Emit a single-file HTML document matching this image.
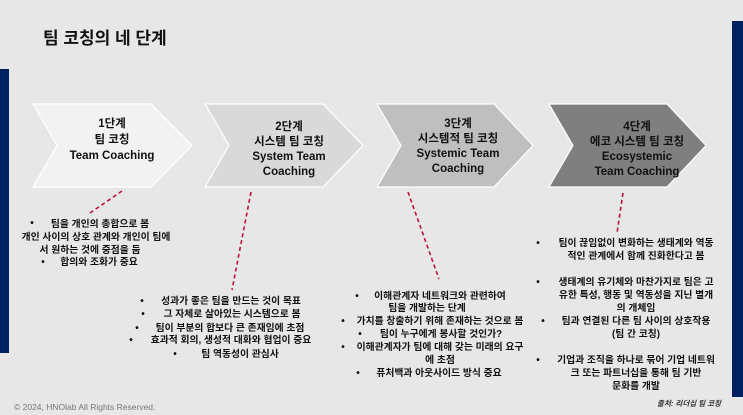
<!DOCTYPE html>
<html><head><meta charset="utf-8"><style>
html,body{margin:0;padding:0;background:#e7e7e7;}
svg{display:block;}
.k{font-family:"Liberation Sans","Noto Sans CJK KR",sans-serif;}
</style></head><body>
<svg width="743" height="415" viewBox="0 0 743 415" xmlns="http://www.w3.org/2000/svg" class="k">
<rect width="743" height="415" fill="#e7e7e7"/>
<rect x="0" y="69" width="9" height="284" fill="#002060"/>
<rect x="732" y="21" width="11" height="376" fill="#002060"/>
<text x="43" y="44" font-size="17" font-weight="bold" fill="#111">팀 코칭의 네 단계</text>
<g stroke="#fff" stroke-width="1.2">
<polygon points="33,104 151,104 192,145.5 151,187 33,187 57,145.5" fill="#f2f2f2"/>
<polygon points="205,104 323,104 363,145.5 323,187 205,187 229,145.5" fill="#d9d9d9"/>
<polygon points="377,104 494,104 533,145.5 494,187 377,187 401,145.5" fill="#bfbfbf"/>
<polygon points="549,104 667,104 706,145.5 667,187 549,187 573,145.5" fill="#7f7f7f"/>
</g>
<g font-size="11.5" font-weight="bold" fill="#111" text-anchor="middle">
<text x="112" y="127">1단계</text><text x="112" y="143">팀 코칭</text><text x="112" y="159">Team Coaching</text>
<text x="289" y="130">2단계</text><text x="289" y="145">시스템 팀 코칭</text><text x="289" y="160">System Team</text><text x="289" y="175">Coaching</text>
<text x="458" y="127">3단계</text><text x="458" y="142">시스템적 팀 코칭</text><text x="458" y="157">Systemic Team</text><text x="458" y="172">Coaching</text>
<text x="637" y="130">4단계</text><text x="637" y="145">에코 시스템 팀 코칭</text><text x="637" y="160">Ecosystemic</text><text x="637" y="175">Team Coaching</text>
</g>
<g stroke="#c0143c" stroke-width="1.6" stroke-dasharray="4,3" fill="none">
<line x1="122" y1="191" x2="90" y2="213"/>
<line x1="251" y1="192" x2="232" y2="290"/>
<line x1="408" y1="192" x2="439" y2="279"/>
<line x1="623" y1="193" x2="617" y2="233"/>
</g>
<g font-size="9.8" font-weight="bold" fill="#111" text-anchor="middle">
<text x="100" y="227">팀을 개인의 총합으로 봄</text>
<text x="96" y="240">개인 사이의 상호 관계와 개인이 팀에</text>
<text x="90" y="253">서 원하는 것에 중점을 둠</text>
<text x="99" y="265">합의와 조화가 중요</text>
<text x="231" y="304">성과가 좋은 팀을 만드는 것이 목표</text>
<text x="232" y="317">그 자체로 살아있는 시스템으로 봄</text>
<text x="230" y="331">팀이 부분의 합보다 큰 존재임에 초점</text>
<text x="231" y="343">효과적 회의, 생성적 대화와 협업이 중요</text>
<text x="240" y="357">팀 역동성이 관심사</text>
<text x="440" y="299">이해관계자 네트워크와 관련하여</text>
<text x="427" y="311">팀을 개발하는 단계</text>
<text x="440" y="324">가치를 창출하기 위해 존재하는 것으로 봄</text>
<text x="441" y="337">팀이 누구에게 봉사할 것인가?</text>
<text x="440" y="350">이해관계자가 팀에 대해 갖는 미래의 요구</text>
<text x="440" y="363">에 초점</text>
<text x="439" y="376">퓨처백과 아웃사이드 방식 중요</text>
<text x="636" y="246">팀이 끊임없이 변화하는 생태계와 역동</text>
<text x="636" y="259">적인 관계에서 함께 진화한다고 봄</text>
<text x="636" y="285">생태계의 유기체와 마찬가지로 팀은 고</text>
<text x="636" y="298">유한 특성, 행동 및 역동성을 지닌 별개</text>
<text x="636" y="311">의 개체임</text>
<text x="636" y="324">팀과 연결된 다른 팀 사이의 상호작용</text>
<text x="636" y="337">(팀 간 코칭)</text>
<text x="636" y="363">기업과 조직을 하나로 묶어 기업 네트워</text>
<text x="636" y="376">크 또는 파트너십을 통해 팀 기반</text>
<text x="636" y="389">문화를 개발</text>
</g>
<g font-size="10" font-weight="bold" fill="#111" text-anchor="middle">
<text x="32" y="226">•</text><text x="43" y="265">•</text>
<text x="142" y="304">•</text><text x="143" y="317">•</text><text x="137" y="331">•</text><text x="131" y="343">•</text><text x="175" y="357">•</text>
<text x="357" y="299">•</text><text x="343" y="324">•</text><text x="360" y="337">•</text><text x="343" y="350">•</text><text x="358" y="376">•</text>
<text x="538" y="246">•</text><text x="538" y="285">•</text><text x="543" y="324">•</text><text x="538" y="363">•</text>
</g>
<text x="14" y="410" font-size="8.5" fill="#777">© 2024, HNOlab All Rights Reserved.</text>
<text x="721" y="406" font-size="7.5" font-weight="bold" font-style="italic" fill="#333" text-anchor="end">출처: 리더십 팀 코칭</text>
</svg>
</body></html>
